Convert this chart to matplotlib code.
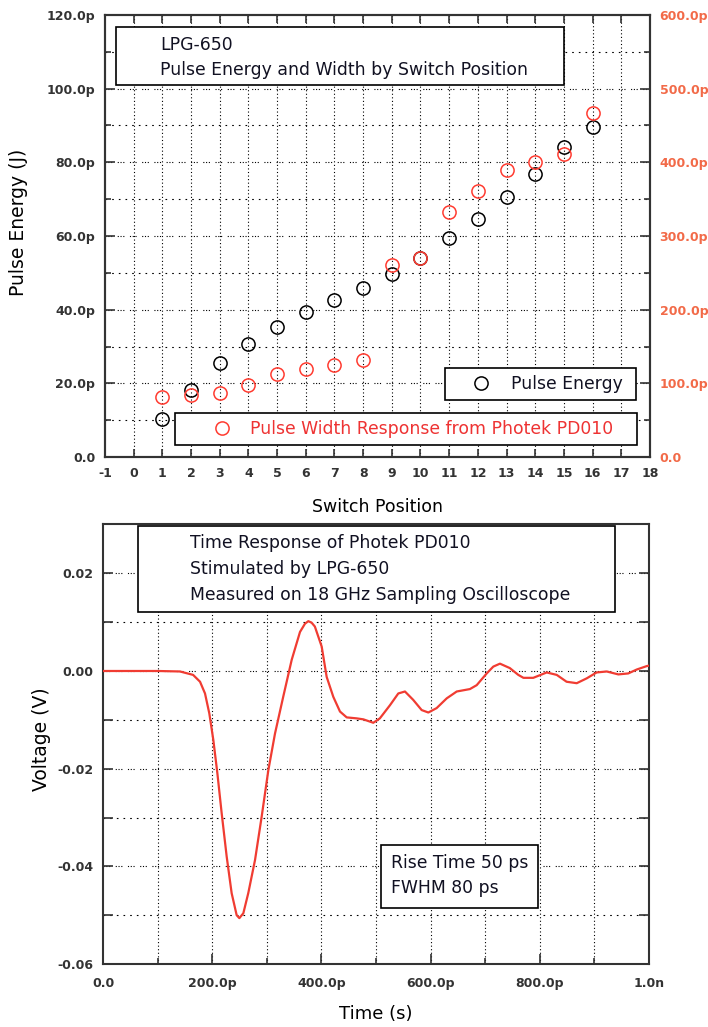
import matplotlib
matplotlib.use("Agg")
import matplotlib.pyplot as plt
from matplotlib.ticker import MultipleLocator, FuncFormatter
from matplotlib.patches import Rectangle

# ---------------- data ----------------
switch_pos = [1, 2, 3, 4, 5, 6, 7, 8, 9, 10, 11, 12, 13, 14, 15, 16]
pulse_energy_pJ = [10.3, 18.2, 25.4, 30.7, 35.3, 39.4, 42.7, 45.8, 49.7, 54.0,
                   59.5, 64.6, 70.7, 76.8, 84.2, 89.7]
pulse_width_ps = [82, 84, 87, 98, 113, 120, 124.5, 132, 260, 270,
                  333, 361, 390, 400, 411, 467]

time_ps = [0, 50, 100, 141, 165, 177.7, 186.8, 194.7, 202, 209.4, 217.3, 226.5,
           235.6, 244.8, 249.7, 257, 266, 278.4, 290.6, 302.8, 315, 330, 345.6,
           360.8, 370, 376, 382, 388, 400.5, 409.6, 421.8, 434, 446.3, 464.6, 476.8, 495,
           507, 525.6, 540.8, 553, 568, 583.6, 595.8, 611, 629.5, 647.8, 672,
           684.4, 702.7, 714.8, 727, 745, 760.6, 770, 788, 812.6, 831, 849, 867.6,
           886, 904, 922.5, 943.8, 962, 977.5, 995.8, 1000]
voltage_V = [0.0, 0.0, 0.0, -0.0001, -0.0008, -0.0022, -0.0046, -0.0087, -0.0141,
             -0.0209, -0.0291, -0.0380, -0.0455, -0.0500, -0.0506, -0.0496, -0.0455,
             -0.0387, -0.0298, -0.0203, -0.0128, -0.0053, 0.0023, 0.0080, 0.0097, 0.0102,
             0.0099, 0.0091, 0.0050, -0.0012, -0.0053, -0.0083, -0.0095, -0.0097, -0.0099,
             -0.0106, -0.0097, -0.0070, -0.0046, -0.0042, -0.0059, -0.0080, -0.0085,
             -0.0076, -0.0056, -0.0042, -0.0037, -0.0029, -0.0005, 0.0009, 0.0015,
             0.0006, -0.0008, -0.0014, -0.0014, -0.0003, -0.0008, -0.0022, -0.0025,
             -0.0015, -0.0003, -0.0001, -0.0007, -0.0005, 0.0003, 0.0010, 0.0011]

top_title = ["LPG-650", "Pulse Energy and Width by Switch Position"]
bottom_title = ["Time Response of Photek PD010", "Stimulated by LPG-650",
                "Measured on 18 GHz Sampling Oscilloscope"]
rise_text = ["Rise Time 50 ps", "FWHM 80 ps"]

# ---------------- style ----------------
plt.rcParams['font.family'] = ['DejaVu Sans']
plt.rcParams['axes.unicode_minus'] = False
DARK = '#333333'
RED = '#f03c32'
RED_LBL = '#f26a48'
TICK_FS = 9.0
TXT_FS = 12.4

fig = plt.figure(figsize=(7.08, 10.27), dpi=100)

def style_spines(ax):
    for s in ax.spines.values():
        s.set_color(DARK)
        s.set_linewidth(1.5)

def grid_lines(ax, xs, ys_major, ys_minor, xlim, ylim):
    for x in xs:
        ax.plot([x, x], ylim, ls=(0, (1, 2.2)), color='black', lw=0.8, zorder=1)
    for y in ys_major:
        ax.plot(xlim, [y, y], ls=(0, (1, 1.5, 1, 1.5, 1, 5)), color='black', lw=0.8, zorder=1)
    for y in ys_minor:
        ax.plot(xlim, [y, y], ls=(0, (1.5, 4.5)), color='black', lw=0.8, zorder=1)

def pfmt(v, pos=None):
    if abs(v) < 1e-9:
        return "0.0"
    return f"{v:.1f}p"

def bold_ticks(ax):
    for lbl in ax.get_xticklabels() + ax.get_yticklabels():
        lbl.set_fontweight('bold')

# ================= top chart =================
ax1 = fig.add_axes([0.1483, 0.555, 0.7697, 0.4304])
style_spines(ax1)
xlim1 = (-1, 18)
ylim1 = (0, 120)
ax1.set_xlim(*xlim1)
ax1.set_ylim(*ylim1)
grid_lines(ax1, range(0, 18), [20, 40, 60, 80, 100], [10, 30, 50, 70, 90, 110], xlim1, ylim1)

ax1.xaxis.set_major_locator(MultipleLocator(1))
ax1.yaxis.set_major_locator(MultipleLocator(20))
ax1.yaxis.set_minor_locator(MultipleLocator(10))
ax1.yaxis.set_major_formatter(FuncFormatter(pfmt))
ax1.tick_params(axis='x', which='both', direction='in', top=True, bottom=True,
                length=6, width=1.2, color=DARK, labelsize=TICK_FS, labelcolor=DARK, pad=7)
ax1.tick_params(axis='y', which='major', direction='in', left=True, right=False,
                length=7, width=1.2, color=DARK, labelsize=TICK_FS, labelcolor=DARK, pad=7)
ax1.tick_params(axis='y', which='minor', direction='in', left=True, right=False,
                length=4, width=1.2, color=DARK)

ax1r = ax1.twinx()
ax1r.set_ylim(0, 600)
ax1r.yaxis.set_major_locator(MultipleLocator(100))
ax1r.yaxis.set_minor_locator(MultipleLocator(50))
ax1r.yaxis.set_major_formatter(FuncFormatter(pfmt))
ax1r.tick_params(axis='y', which='major', direction='in', length=7, width=1.2,
                 color=DARK, labelsize=TICK_FS, labelcolor=RED_LBL, pad=7)
ax1r.tick_params(axis='y', which='minor', direction='in', length=4, width=1.2, color=DARK)
style_spines(ax1r)

h_energy, = ax1.plot(switch_pos, pulse_energy_pJ, ls='none', marker='o', ms=9.5,
                     mfc='none', mec='black', mew=1.1, zorder=4, label='Pulse Energy')
h_width, = ax1r.plot(switch_pos, pulse_width_ps, ls='none', marker='o', ms=9.5,
                     mfc='none', mec='#ff3b30', mew=1.1, zorder=4,
                     label='Pulse Width Response from Photek PD010')

ax1.set_xlabel("Switch Position", fontsize=12.5, color='black', labelpad=13)
ax1.set_ylabel("Pulse Energy (J)", fontsize=13.5, color='black')
ax1.yaxis.set_label_coords(-0.141, 0.53)

# title box
ax1r.add_patch(Rectangle((0.020, 0.842), 0.822, 0.131, transform=ax1r.transAxes,
                         facecolor='white', edgecolor='black', lw=1.2, zorder=5))
for txt, yy in zip(top_title, [0.932, 0.876]):
    ax1r.text(0.101, yy, txt, transform=ax1r.transAxes, fontsize=TXT_FS, va='center',
              ha='left', color='#111122', zorder=6)

leg1 = ax1r.legend(handles=[h_energy], loc='lower left',
                   bbox_to_anchor=(0.624, 0.129, 0.350, 0.072), mode='expand',
                   borderaxespad=0, frameon=True, fancybox=False, edgecolor='black',
                   framealpha=1, fontsize=TXT_FS, handlelength=3.3, handletextpad=0.1,
                   borderpad=0.42, labelcolor='#111122')
leg1.get_frame().set_linewidth(1.2)
leg1.set_zorder(6)
ax1r.add_artist(leg1)
leg2 = ax1r.legend(handles=[h_width], loc='lower left',
                   bbox_to_anchor=(0.128, 0.027, 0.848, 0.070), mode='expand',
                   borderaxespad=0, frameon=True, fancybox=False, edgecolor='black',
                   framealpha=1, fontsize=TXT_FS, handlelength=4.6, handletextpad=-0.65,
                   borderpad=0.42, labelcolor='#ee3333')
leg2.get_frame().set_linewidth(1.2)
leg2.set_zorder(6)

# ================= bottom chart =================
ax2 = fig.add_axes([0.1455, 0.0613, 0.7712, 0.4285])
style_spines(ax2)
xlim2 = (0, 1000)
ylim2 = (-0.06, 0.0301)
ax2.set_xlim(*xlim2)
ax2.set_ylim(*ylim2)
grid_lines(ax2, [100, 200, 300, 400, 500, 600, 700, 800, 900],
           [0.02, 0.0, -0.02, -0.04], [0.01, -0.01, -0.03, -0.05], xlim2, ylim2)

ax2.xaxis.set_major_locator(MultipleLocator(200))
ax2.xaxis.set_minor_locator(MultipleLocator(100))
ax2.xaxis.set_major_formatter(FuncFormatter(
    lambda v, p: "0.0" if abs(v) < 1e-6 else ("1.0n" if abs(v - 1000) < 1e-6 else f"{v:.1f}p")))
ax2.yaxis.set_major_locator(MultipleLocator(0.02))
ax2.yaxis.set_minor_locator(MultipleLocator(0.01))
ax2.yaxis.set_major_formatter(FuncFormatter(lambda v, p: f"{v:.2f}" if abs(v) > 1e-9 else "0.00"))
ax2.tick_params(axis='x', which='major', direction='in', bottom=True, top=False,
                length=7, width=1.2, color=DARK, labelsize=TICK_FS, labelcolor=DARK, pad=9)
ax2.tick_params(axis='x', which='minor', direction='in', bottom=True, top=False,
                length=4, width=1.2, color=DARK)
ax2.tick_params(axis='y', which='major', direction='in', left=True, right=True,
                length=7, width=1.2, color=DARK, labelsize=TICK_FS, labelcolor=DARK, pad=7)
ax2.tick_params(axis='y', which='minor', direction='in', left=True, right=True,
                length=7, width=1.2, color=DARK)

ax2.plot(time_ps, voltage_V, color=RED, lw=1.6, zorder=4)

ax2.set_xlabel("Time (s)", fontsize=13, color='black', labelpad=11)
ax2.set_ylabel("Voltage (V)", fontsize=13.5, color='black')
ax2.yaxis.set_label_coords(-0.095, 0.51)

ax2.add_patch(Rectangle((0.064, 0.80), 0.874, 0.195, transform=ax2.transAxes,
                        facecolor='white', edgecolor='black', lw=1.2, zorder=5))
for txt, yy in zip(bottom_title, [0.957, 0.898, 0.839]):
    ax2.text(0.159, yy, txt, transform=ax2.transAxes, fontsize=TXT_FS, va='center',
             ha='left', color='#111122', zorder=6)

ax2.add_patch(Rectangle((0.509, 0.127), 0.288, 0.1435, transform=ax2.transAxes,
                        facecolor='white', edgecolor='black', lw=1.2, zorder=5))
for txt, yy in zip(rise_text, [0.2295, 0.1727]):
    ax2.text(0.527, yy, txt, transform=ax2.transAxes, fontsize=TXT_FS, va='center',
             ha='left', color='#111122', zorder=6)

for a in (ax1, ax1r, ax2):
    bold_ticks(a)

fig.savefig("out.png", dpi=100)
